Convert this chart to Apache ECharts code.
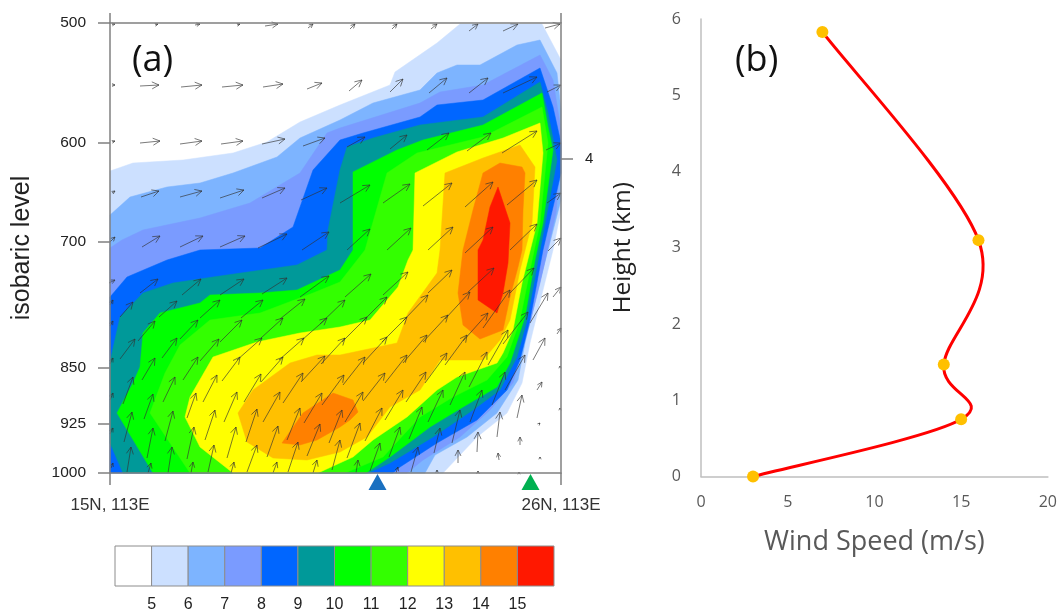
<!DOCTYPE html>
<html><head><meta charset="utf-8">
<style>html,body{margin:0;padding:0;background:#fff}#c{width:1060px;height:613px}</style>
<script src="https://cdn.jsdelivr.net/npm/echarts@6/dist/echarts.min.js"></script>
</head><body><div id="c"></div>
<script>
// ---- Panel (a): axis units are section position (x) and log-pressure level (y)
const pressureLabels = ['500','600','700','850','925','1000'];
const pressureTicks = [0,120,219,345,401,450];
const heightTick = [136];
const heightTickLabel = ['4'];
const sectionTicks = [0,451];
const sectionLabels = ['15N, 113E','26N, 113E'];

const band5 = [[0,148],[23,140],[73,137],[123,130],[157,119],[190,99],[230,82],[280,62],[285,49],[327,20],[350,1],[432,1],[451,37],[451,187],[443,227],[433,267],[420,320],[412,360],[397,390],[367,414],[333,450],[0,450]];
const band6 = [[0,192],[20,174],[57,164],[90,160],[123,150],[167,134],[190,115],[230,97],[263,80],[310,67],[327,50],[347,42],[370,42],[407,22],[430,17],[447,50],[451,87],[451,177],[438,227],[427,270],[415,320],[408,357],[387,390],[357,414],[325,432],[315,450],[0,450]];
const band7 = [[0,225],[12,217],[33,207],[90,195],[140,180],[190,150],[217,110],[230,105],[310,80],[330,69],[373,62],[430,32],[443,57],[451,107],[451,130],[446,190],[430,260],[420,300],[412,327],[403,360],[380,387],[350,414],[313,437],[297,450],[0,450]];
const band8 = [[0,274],[17,254],[57,237],[90,227],[150,225],[183,204],[203,147],[230,117],[253,110],[310,94],[327,82],[373,77],[430,45],[443,84],[451,120],[451,150],[433,227],[420,297],[410,337],[397,367],[367,397],[327,420],[290,444],[283,450],[0,450]];
const band9 = [[0,339],[10,294],[33,270],[63,260],[103,254],[187,242],[217,227],[218,207],[230,147],[237,124],[263,115],[310,102],[373,94],[430,59],[438,90],[447,137],[430,227],[417,297],[407,334],[390,367],[363,387],[323,414],[280,440],[258,450],[13,450],[0,420]];
const band10 = [[7,390],[23,360],[30,344],[33,310],[50,290],[90,280],[100,272],[150,270],[187,267],[230,247],[243,227],[243,149],[287,127],[313,117],[373,102],[432,70],[438,104],[443,127],[433,200],[425,237],[415,294],[400,340],[387,364],[353,384],[320,404],[280,434],[256,450],[43,450]];
const band11 = [[40,390],[55,350],[70,322],[100,297],[150,290],[203,270],[230,259],[255,227],[277,150],[307,130],[373,114],[432,84],[438,120],[430,200],[420,247],[410,297],[397,334],[377,357],[343,374],[310,394],[273,434],[235,450],[80,450]];
const band12 = [[75,394],[90,424],[123,450],[208,450],[243,434],[263,417],[297,394],[327,367],[347,354],[387,340],[393,330],[403,307],[412,260],[427,200],[433,130],[430,100],[393,115],[347,129],[305,150],[303,227],[298,237],[288,264],[260,297],[230,304],[190,310],[147,319],[103,334],[80,374]];
const band13 = [[128,390],[137,419],[163,435],[197,437],[230,429],[257,414],[280,384],[310,367],[330,337],[373,337],[390,317],[400,297],[410,247],[422,200],[425,144],[410,122],[373,135],[335,150],[330,227],[327,250],[298,290],[287,320],[230,332],[207,332],[180,340],[143,367]];
const band14Upper = [[373,150],[390,140],[412,144],[415,150],[413,187],[412,227],[408,244],[400,274],[393,307],[370,316],[353,302],[348,270],[353,227],[363,187]];
const band14Lower = [[172,420],[193,390],[223,370],[243,377],[248,389],[240,397],[230,404],[207,417],[190,422]];
const band15 = [[388,164],[400,200],[398,240],[393,270],[387,290],[368,277],[368,227],[373,217],[380,184]];

const colorWhite='#ffffff', c5='#cce0ff', c6='#7db4ff', c7='#7a9bff', c8='#0066ff', c9='#009999',
      c10='#00ff00', c11='#33ff00', c12='#ffff00', c13='#ffc000', c14='#ff8000', c15='#ff1800';
const bands = [[band5,c5],[band6,c6],[band7,c7],[band8,c8],[band9,c9],[band10,c10],[band11,c11],[band12,c12],[band13,c13],[band14Upper,c14],[band14Lower,c14],[band15,c15]];

// wind arrows: tip x, tip y, tail offset dx, dy
const windRow1 = [[5,1,-3,0.5],[48,1,-3,1],[90,1,-5,1],[130,1,-3,1],[168,1,-13,2],[203,1,-5,4],[245,1,-5,5],[287,1,-5,5],[327,1,-6,5],[368,1,-9,7],[408,1,-15,7],[450,1,-15,4]];
const windRow2 = [[5,62,-3,0],[49,62,-19,1],[92,62,-21,2],[133,62,-21,2],[173,61,-20,3],[212,60,-15,6],[252,57,-13,11],[293,56,-13,13],[337,55,-18,15],[378,55,-19,15],[427,54,-34,16],[451,62,-14,7]];
const windRow3 = [[5,118,-3,1],[50,118,-20,2],[92,118,-22,3],[133,118,-22,3],[175,116,-23,5],[215,115,-22,8],[255,114,-18,10],[297,112,-17,14],[339,110,-22,17],[381,110,-24,18],[427,108,-35,22],[451,120,-15,7]];
const windRow4 = [[5,168,-3,2],[49,168,-18,6],[92,168,-22,6],[134,167,-24,8],[175,165,-23,10],[217,165,-26,12],[260,162,-30,18],[300,161,-27,19],[342,160,-29,23],[383,159,-28,25],[427,157,-30,25],[451,170,-14,10]];
const windRow5 = [[5,214,-5,5],[50,213,-18,11],[93,213,-23,11],[135,213,-25,11],[177,211,-29,14],[219,209,-27,18],[260,206,-23,21],[301,205,-24,22],[343,204,-25,23],[383,204,-28,26],[427,201,-27,26],[451,215,-13,13]];
const windRow6 = [[5,257,-6,3],[48,256,-18,14],[91,256,-19,16],[134,256,-24,16],[177,255,-25,16],[219,253,-29,21],[261,251,-26,23],[298,249,-25,23],[342,247,-24,23],[384,245,-26,24],[424,245,-24,25],[451,264,-8,10]];
const windRow7 = [[3,277,-3,5],[23,279,-13,15],[67,278,-18,16],[110,277,-20,18],[153,277,-22,18],[195,276,-25,20],[235,277,-25,24],[277,274,-25,25],[318,272,-25,26],[360,269,-25,27],[400,267,-27,38],[438,270,-18,30]];
const windRow8 = [[3,298,-3,5],[45,298,-17,20],[88,297,-18,19],[132,297,-22,22],[173,295,-22,20],[217,295,-25,22],[257,294,-25,25],[297,294,-25,25],[338,292,-25,27],[378,290,-25,28],[418,289,-25,32],[451,305,-4,6]];
const windRow9 = [[25,316,-15,20],[67,315,-15,20],[109,316,-19,22],[152,315,-25,22],[194,315,-25,22],[235,315,-24,26],[277,314,-24,26],[317,312,-24,28],[357,312,-22,30],[398,307,-20,35],[435,315,-12,22]];
const windRow10 = [[3,335,-3,6],[45,335,-13,22],[88,334,-15,23],[130,334,-18,24],[173,334,-22,25],[215,333,-24,26],[255,334,-22,28],[297,332,-22,28],[337,330,-22,30],[377,329,-18,35],[415,332,-20,35],[450,343,0,1]];
const windRow11 = [[23,354,-10,27],[65,354,-12,25],[107,352,-14,27],[151,351,-17,28],[193,350,-20,30],[234,352,-22,30],[275,350,-22,28],[316,349,-20,30],[355,349,-15,33],[395,349,-13,33],[432,359,-5,8]];
const windRow12 = [[3,370,-3,7],[43,371,-9,25],[86,370,-9,25],[127,369,-13,30],[170,369,-17,30],[212,370,-18,30],[253,369,-18,30],[293,367,-18,30],[333,367,-15,32],[372,367,-12,32],[412,372,-5,23],[450,385,0,1]];
const windRow13 = [[22,389,-8,30],[63,388,-8,30],[105,387,-10,30],[147,386,-11,33],[190,385,-13,32],[232,387,-13,33],[272,385,-17,33],[312,384,-13,32],[350,387,-8,33],[390,389,-3,25],[430,400,-1,1]];
const windRow14 = [[3,405,-3,6],[43,405,-6,30],[84,404,-7,32],[126,404,-9,31],[168,403,-11,31],[210,401,-13,32],[250,400,-13,35],[290,404,-11,30],[330,405,-6,25],[368,409,-1,20],[410,414,0,8]];
const windRow15 = [[21,424,-4,25],[62,424,-4,26],[104,422,-6,27],[147,422,-10,27],[188,419,-10,30],[230,417,-8,30],[270,420,-10,28],[308,424,-7,25],[348,427,0,13],[388,430,1,7],[430,434,0,1]];
const windRow16 = [[3,440,-2,5],[41,440,-3,10],[83,439,-2,11],[124,439,-3,11],[167,439,-4,11],[207,437,-4,13],[248,437,-2,13],[288,444,-2,6],[327,447,0,2],[368,448,0,2],[409,449,0,1]];
const windArrows = [windRow1,windRow2,windRow3,windRow4,windRow5,windRow6,windRow7,windRow8,windRow9,windRow10,windRow11,windRow12,windRow13,windRow14,windRow15,windRow16].flat();

const stationMarks = [[267.5,459,'#1a70c0'],[420.5,459,'#00b050']];

// ---- Colour bar
const colorbarSegments = [colorWhite,c5,c6,c7,c8,c9,c10,c11,c12,c13,c14,c15];
const colorbarLabels = ['5','6','7','8','9','10','11','12','13','14','15'];

// ---- Panel (b)
const windSpeed = [3,15,14,16,7];
const heightKm = [0,0.75,1.47,3.1,5.83];

const sansA = '"Liberation Sans", Arial, sans-serif';
const sansB = '"Open Sans", sans-serif';
const axisGray = '#808080';
const axLine = {onZero:false,lineStyle:{color:axisGray,width:1.5}};
const tickStyle = {color:axisGray,width:1.5};

const chart = echarts.init(document.getElementById('c'), null, {renderer:'canvas'});
chart.setOption({
  backgroundColor:'#fff',
  animation:false,
  grid:[
    {left:110,top:23,width:451,height:450},
    {left:115,top:546,width:439,height:40},
    {left:701,top:19,width:347,height:457.5}
  ],
  xAxis:[
    {gridIndex:0,type:'value',min:0,max:451,position:'bottom',z:10,splitLine:{show:false},
      axisLine:axLine,
      axisTick:{customValues:sectionTicks,length:12,lineStyle:tickStyle},
      axisLabel:{customValues:sectionTicks,margin:24,fontFamily:sansA,fontSize:17,color:'#333',
        formatter:v=>sectionLabels[sectionTicks.indexOf(v)]||''}},
    {gridIndex:0,type:'value',min:0,max:451,position:'top',z:10,splitLine:{show:false},
      axisLine:axLine,
      axisTick:{customValues:sectionTicks,length:10,lineStyle:tickStyle},
      axisLabel:{show:false}},
    {gridIndex:1,type:'value',min:0,max:12,interval:1,z:10,splitLine:{show:false},
      axisLine:{show:false},axisTick:{show:false},
      axisLabel:{margin:11,fontFamily:sansA,fontSize:16,color:'#222',
        showMinLabel:false,showMaxLabel:false,
        formatter:v=>colorbarLabels[v-1]||''}},
    {gridIndex:2,type:'value',min:0,max:20,interval:5,splitLine:{show:false},
      axisLine:{onZero:false,lineStyle:{color:'#bfbfbf',width:1.5}},axisTick:{show:false},
      axisLabel:{margin:18,fontFamily:sansB,fontSize:16,color:'#595959'},
      name:'Wind Speed (m/s)',nameLocation:'middle',nameGap:52,
      nameTextStyle:{fontFamily:sansB,fontSize:27,color:'#595959'}}
  ],
  yAxis:[
    {gridIndex:0,type:'value',min:0,max:450,inverse:true,position:'left',z:10,splitLine:{show:false},
      axisLine:axLine,
      axisTick:{customValues:pressureTicks,length:12,lineStyle:tickStyle},
      axisLabel:{customValues:pressureTicks,margin:24,fontFamily:sansA,fontSize:15.5,color:'#222',
        formatter:v=>pressureLabels[pressureTicks.indexOf(v)]||''},
      name:'isobaric level',nameLocation:'middle',nameGap:75,
      nameTextStyle:{fontFamily:sansA,fontSize:25,color:'#222'}},
    {gridIndex:0,type:'value',min:0,max:450,inverse:true,position:'right',z:10,splitLine:{show:false},
      axisLine:axLine,
      axisTick:{customValues:heightTick,length:12,lineStyle:tickStyle},
      axisLabel:{customValues:heightTick,margin:24,fontFamily:sansA,fontSize:15,color:'#222',
        formatter:()=>heightTickLabel[0]}},
    {gridIndex:1,type:'value',min:0,max:1,show:false},
    {gridIndex:2,type:'value',min:0,max:6,interval:1,splitLine:{show:false},
      axisLine:{show:true,onZero:false,lineStyle:{color:'#bfbfbf',width:1.5}},axisTick:{show:false},
      axisLabel:{margin:20,fontFamily:sansB,fontSize:16,color:'#595959'},
      name:'Height (km)',nameLocation:'middle',nameGap:65,
      nameTextStyle:{fontFamily:sansB,fontSize:24.5,color:'#222'}}
  ],
  graphic:[
    {type:'text',left:132,top:43,style:{text:'(a)',fontFamily:sansB,fontSize:36,fill:'#111'}},
    {type:'text',left:735,top:43,style:{text:'(b)',fontFamily:sansB,fontSize:36,fill:'#111'}}
  ],
  series:[
    {type:'custom',xAxisIndex:0,yAxisIndex:0,silent:true,z:2,
      data:bands.map((b,i)=>[i]),
      renderItem:(p,api)=>{
        const b=bands[api.value(0)];
        return {type:'polygon',shape:{points:b[0].map(q=>api.coord(q))},style:{fill:b[1],stroke:b[1],lineWidth:0.5}};
      }},
    {type:'custom',xAxisIndex:0,yAxisIndex:0,silent:true,z:3,clip:false,
      data:windArrows,
      renderItem:(p,api)=>{
        const x=api.value(0),y=api.value(1),dx=api.value(2),dy=api.value(3);
        const tip=api.coord([x,y]),tail=api.coord([x+dx,y+dy]);
        const len=Math.hypot(dx,dy)||1,ux=-dx/len,uy=-dy/len;
        const h=Math.min(7,2+len*0.3),w=h*0.5;
        const a=[tip[0]-ux*h-uy*w,tip[1]-uy*h+ux*w],b=[tip[0]-ux*h+uy*w,tip[1]-uy*h-ux*w];
        const st={stroke:'rgba(50,50,50,0.72)',fill:null,lineWidth:0.9};
        return {type:'group',children:[
          {type:'polyline',shape:{points:[tail,tip]},style:st},
          {type:'polyline',shape:{points:[a,tip,b]},style:st}
        ]};
      }},
    {type:'scatter',xAxisIndex:0,yAxisIndex:0,silent:true,z:4,clip:false,symbol:'triangle',symbolSize:[18,16],
      data:stationMarks.map(m=>({value:[m[0],m[1]],itemStyle:{color:m[2],opacity:1}}))},
    {type:'custom',xAxisIndex:2,yAxisIndex:2,silent:true,z:2,
      data:colorbarSegments.map((c,i)=>[i]),
      renderItem:(p,api)=>{
        const i=api.value(0),a=api.coord([i,1]),b=api.coord([i+1,0]);
        return {type:'rect',shape:{x:a[0],y:a[1],width:b[0]-a[0],height:b[1]-a[1]},
          style:{fill:colorbarSegments[i],stroke:'#8c8c8c',lineWidth:1}};
      }},
    // spreadsheet-style smoothed line through the measured points (Catmull-Rom tangents)
    {type:'custom',xAxisIndex:3,yAxisIndex:3,silent:true,z:3,clip:false,
      data:windSpeed.slice(0,-1).map((v,i)=>[v,heightKm[i],i]),
      renderItem:(p,api)=>{
        const i=api.value(2),n=windSpeed.length;
        const pt=k=>{const j=Math.max(0,Math.min(n-1,k));return api.coord([windSpeed[j],heightKm[j]]);};
        const p0=pt(i-1),p1=pt(i),p2=pt(i+1),p3=pt(i+2);
        return {type:'bezierCurve',shape:{x1:p1[0],y1:p1[1],x2:p2[0],y2:p2[1],
          cpx1:p1[0]+(p2[0]-p0[0])/6,cpy1:p1[1]+(p2[1]-p0[1])/6,
          cpx2:p2[0]-(p3[0]-p1[0])/6,cpy2:p2[1]-(p3[1]-p1[1])/6},
          style:{stroke:'#ff0000',lineWidth:3,fill:null}};
      }},
    {type:'scatter',xAxisIndex:3,yAxisIndex:3,silent:true,z:4,clip:false,symbol:'circle',symbolSize:12,
      data:windSpeed.map((v,i)=>[v,heightKm[i]]),
      itemStyle:{color:'#ffc000',opacity:1}}
  ]
});
</script></body></html>
